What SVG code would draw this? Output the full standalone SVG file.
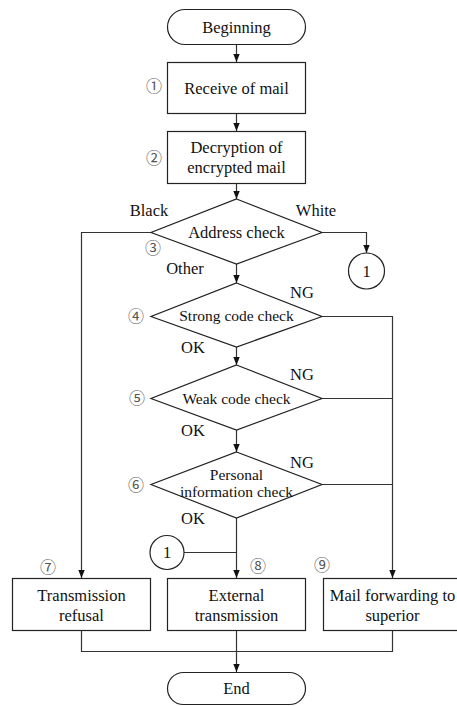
<svg xmlns="http://www.w3.org/2000/svg" width="457" height="706" viewBox="0 0 457 706">
<style>
.s{fill:#fff;stroke:#222;stroke-width:1.2}
.c{fill:none;stroke:#333;stroke-width:1.2}
.t{font-family:'Liberation Serif','Times New Roman','DejaVu Serif',serif;font-size:16.5px;fill:#111}
.m{text-anchor:middle}
.d{font-size:15.5px}
.n{font-family:'Noto Sans CJK JP','DejaVu Sans',sans-serif;font-size:16px;fill:#555;text-anchor:middle}
</style>
<defs>
<marker id="a" viewBox="0 0 8 8" refX="8" refY="4" markerWidth="8" markerHeight="8" markerUnits="userSpaceOnUse" orient="auto">
<path d="M0,0.8 L8,4 L0,7.2 Z" fill="#111"/>
</marker>
</defs>
<rect width="457" height="706" fill="#fff"/>
<g id="connectors">
<path class="c" d="M236.5,44 V62" marker-end="url(#a)"/>
<path class="c" d="M236.5,113 V131" marker-end="url(#a)"/>
<path class="c" d="M236.5,183 V199" marker-end="url(#a)"/>
<path class="c" d="M236.5,264 V283" marker-end="url(#a)"/>
<path class="c" d="M236.5,347 V365" marker-end="url(#a)"/>
<path class="c" d="M236.5,430 V452" marker-end="url(#a)"/>
<path class="c" d="M236.5,518 V578" marker-end="url(#a)"/>
<path class="c" d="M151,232.5 H81.5 V578" marker-end="url(#a)"/>
<path class="c" d="M322,232.5 H366.5 V253" marker-end="url(#a)"/>
<path class="c" d="M322,316.5 H392.5 V578" marker-end="url(#a)"/>
<path class="c" d="M322,398.5 H392.5"/>
<path class="c" d="M322,484.5 H392.5"/>
<path class="c" d="M184,552.5 H236.5"/>
<path class="c" d="M81.5,630 V651.5 H392.5 V630"/>
<path class="c" d="M236.5,630 V672" marker-end="url(#a)"/>
</g>
<g id="beginning">
<rect class="s" x="167.5" y="9.5" width="138" height="35" rx="17.5"/>
<text class="t m" x="236.5" y="32.5">Beginning</text>
</g>
<g id="step1">
<rect class="s" x="167.5" y="62.5" width="138" height="51"/>
<text class="t m" x="236.5" y="93.5">Receive of mail</text>
<text class="n" x="154" y="92">①</text>
</g>
<g id="step2">
<rect class="s" x="167.5" y="131.5" width="138" height="52"/>
<text class="t m" x="236.5" y="152.5">Decryption of</text>
<text class="t m" x="236.5" y="172.5">encrypted mail</text>
<text class="n" x="154" y="164">②</text>
</g>
<g id="step3">
<polygon class="s" points="236.5,199 322,232.5 236.5,264 151,232.5"/>
<text class="t m" x="236.5" y="237.5">Address check</text>
<text class="n" x="153" y="254">③</text>
<text class="t m" x="149" y="216">Black</text>
<text class="t m" x="316" y="216">White</text>
<text class="t m" x="185" y="274">Other</text>
</g>
<g id="connector-out">
<circle class="s" cx="366.5" cy="271" r="18"/>
<text class="t m" x="366.5" y="277">1</text>
</g>
<g id="step4">
<polygon class="s" points="236.5,283 322,316.5 236.5,347 151,316.5"/>
<text class="t m d" x="236.5" y="321">Strong code check</text>
<text class="n" x="136" y="322">④</text>
<text class="t m" x="302" y="298">NG</text>
<text class="t m" x="193" y="353">OK</text>
</g>
<g id="step5">
<polygon class="s" points="236.5,365 322,398.5 236.5,430 151,398.5"/>
<text class="t m d" x="236.5" y="403.5">Weak code check</text>
<text class="n" x="137" y="404">⑤</text>
<text class="t m" x="302" y="380">NG</text>
<text class="t m" x="193" y="436">OK</text>
</g>
<g id="step6">
<polygon class="s" points="236.5,452 322,484.5 236.5,518 151,484.5"/>
<text class="t m d" x="236.5" y="480">Personal</text>
<text class="t m d" x="236.5" y="497">information check</text>
<text class="n" x="136" y="491">⑥</text>
<text class="t m" x="302" y="468">NG</text>
<text class="t m" x="193" y="524">OK</text>
</g>
<g id="connector-in">
<circle class="s" cx="167" cy="552.5" r="17"/>
<text class="t m" x="167" y="558">1</text>
</g>
<g id="step7">
<rect class="s" x="12.5" y="578.5" width="138" height="52"/>
<text class="t m" x="81.5" y="601">Transmission</text>
<text class="t m" x="81.5" y="621">refusal</text>
<text class="n" x="48" y="573">⑦</text>
</g>
<g id="step8">
<rect class="s" x="167.5" y="578.5" width="138" height="52"/>
<text class="t m" x="236.5" y="601">External</text>
<text class="t m" x="236.5" y="621">transmission</text>
<text class="n" x="258" y="572">⑧</text>
</g>
<g id="step9">
<rect class="s" x="323.5" y="578.5" width="138" height="52"/>
<text class="t m" x="392.5" y="601">Mail forwarding to</text>
<text class="t m" x="392.5" y="621">superior</text>
<text class="n" x="322" y="571">⑨</text>
</g>
<g id="end">
<rect class="s" x="167.5" y="672.5" width="138" height="32" rx="16"/>
<text class="t m" x="236.5" y="694">End</text>
</g>
</svg>
